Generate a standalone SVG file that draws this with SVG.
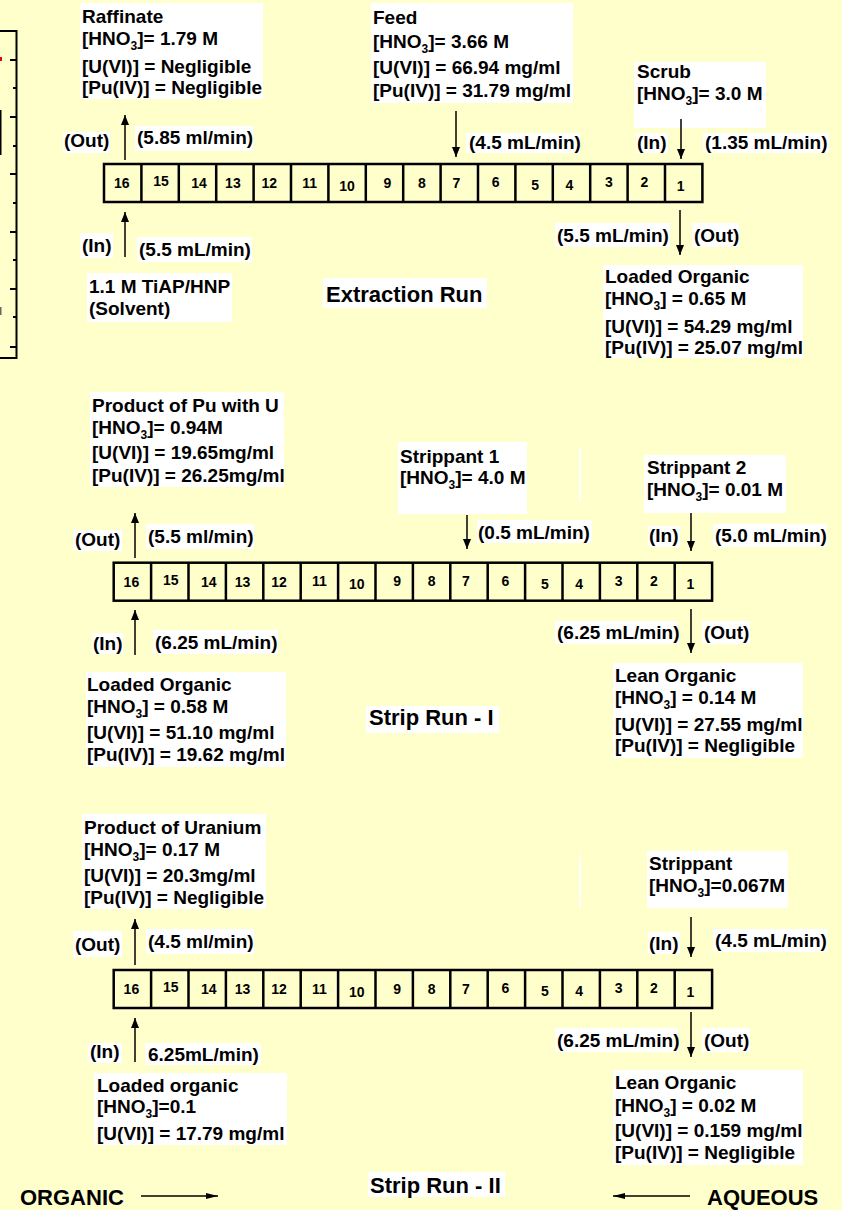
<svg xmlns="http://www.w3.org/2000/svg" width="842" height="1210" viewBox="0 0 842 1210">
<defs>
<style>
.t{font-family:"Liberation Sans",Arial,Helvetica,sans-serif;font-weight:bold;font-size:19px;fill:#000}
.ttl{font-size:22px}
.num{font-family:"Liberation Sans",Arial,Helvetica,sans-serif;font-weight:bold;font-size:14px;text-anchor:middle;fill:#000}
.sub{font-size:12px}
.bg{fill:#fff}
.cell{fill:none;stroke:#000;stroke-width:2.5}
.flow{stroke:#000;stroke-width:1.5;fill:none;marker-end:url(#ah)}
.dir{stroke:#000;stroke-width:1.3;fill:none;marker-end:url(#ah2)}
.axis{stroke:#000;stroke-width:2;fill:none}
</style>
<marker id="ah" markerUnits="userSpaceOnUse" viewBox="0 0 10 8" refX="10" refY="4" markerWidth="10" markerHeight="8" orient="auto"><path d="M0,0 L10,4 L0,8 z" fill="#000"/></marker>
<marker id="ah2" markerUnits="userSpaceOnUse" viewBox="0 0 12 6" refX="12" refY="3" markerWidth="12" markerHeight="6" orient="auto"><path d="M0,0 L12,3 L0,6 z" fill="#000"/></marker>
</defs>
<rect width="842" height="1210" fill="#FFFFCC"/>

<!-- partial chart fragment at left edge -->
<g id="chart-fragment">
<path class="axis" d="M0,31 H16.5 V358 H0"/>
<path class="axis" d="M10,60 H16.5 M10,117 H16.5 M10,174 H16.5 M10,232 H16.5 M10,289 H16.5 M10,347 H16.5 M13,88 H16.5 M13,146 H16.5 M13,203 H16.5 M13,260 H16.5 M13,317 H16.5"/>
<rect x="0" y="57" width="2" height="4" fill="#e00"/>
<rect x="0" y="110" width="1.5" height="45" fill="#000"/>
<rect x="0" y="307" width="1.5" height="8" fill="#666"/>
</g>

<!-- ===== Extraction Run ===== -->
<g id="strip-extraction" transform="translate(104,164)">
<rect class="cell" x="0" y="0" width="598.4" height="38"/>
<path class="cell" d="M37.4,0V38M74.8,0V38M112.2,0V38M149.6,0V38M187,0V38M224.4,0V38M261.8,0V38M299.2,0V38M336.6,0V38M374,0V38M411.4,0V38M448.8,0V38M486.2,0V38M523.6,0V38M561,0V38"/>
<text class="num" x="17.7" y="24">16</text><text class="num" x="57.1" y="22">15</text><text class="num" x="95" y="24">14</text><text class="num" x="128.9" y="24">13</text><text class="num" x="165.3" y="24">12</text><text class="num" x="205.7" y="23.5">11</text><text class="num" x="243.1" y="26.5">10</text><text class="num" x="283.5" y="23.5">9</text><text class="num" x="317.9" y="23.5">8</text><text class="num" x="352.3" y="23.5">7</text><text class="num" x="391.7" y="23">6</text><text class="num" x="431.1" y="26">5</text><text class="num" x="465.5" y="26">4</text><text class="num" x="504.9" y="23">3</text><text class="num" x="540.3" y="23">2</text><text class="num" x="576.7" y="26.5">1</text>
</g>

<g id="raffinate">
<rect class="bg" x="80" y="3" width="183" height="96"/>
<text class="t" x="82" y="23">Raffinate</text>
<text class="t" x="82" y="45">[HNO<tspan class="sub" dy="5">3</tspan><tspan dy="-5">]= 1.79 M</tspan></text>
<text class="t" x="82" y="73">[U(VI)] = Negligible</text>
<text class="t" x="82" y="94">[Pu(IV)] = Negligible</text>
</g>
<g id="feed">
<rect class="bg" x="371" y="3" width="202" height="100"/>
<text class="t" x="373" y="24">Feed</text>
<text class="t" x="373" y="48">[HNO<tspan class="sub" dy="5">3</tspan><tspan dy="-5">]= 3.66 M</tspan></text>
<text class="t" x="373" y="74">[U(VI)] = 66.94 mg/ml</text>
<text class="t" x="373" y="97">[Pu(IV)] = 31.79 mg/ml</text>
</g>
<g id="scrub">
<rect class="bg" x="634" y="62" width="132" height="66"/>
<text class="t" x="637" y="78">Scrub</text>
<text class="t" x="637" y="100">[HNO<tspan class="sub" dy="5">3</tspan><tspan dy="-5">]= 3.0 M</tspan></text>
</g>
<g id="solvent">
<rect class="bg" x="87" y="273" width="145" height="49"/>
<text class="t" x="89" y="293">1.1 M TiAP/HNP</text>
<text class="t" x="89" y="315">(Solvent)</text>
</g>
<g id="loaded-organic-1">
<rect class="bg" x="603" y="265" width="200" height="93"/>
<text class="t" x="605" y="283">Loaded Organic</text>
<text class="t" x="605" y="305">[HNO<tspan class="sub" dy="5">3</tspan><tspan dy="-5">] = 0.65 M</tspan></text>
<text class="t" x="605" y="333">[U(VI)] = 54.29 mg/ml</text>
<text class="t" x="605" y="354">[Pu(IV)] = 25.07 mg/ml</text>
</g>
<g id="title-extraction">
<rect class="bg" x="323" y="278" width="164" height="30"/>
<text class="t ttl" x="326" y="302">Extraction Run</text>
</g>
<g id="labels-extraction">
<rect class="bg" x="63" y="132" width="47" height="21"/><text class="t" x="64" y="147">(Out)</text>
<rect class="bg" x="135" y="126" width="118" height="25"/><text class="t" x="137" y="144">(5.85 ml/min)</text>
<rect class="bg" x="466" y="133" width="114" height="20"/><text class="t" x="469" y="149">(4.5 mL/min)</text>
<rect class="bg" x="636" y="133" width="32" height="20"/><text class="t" x="637" y="149">(In)</text>
<rect class="bg" x="703" y="133" width="126" height="20"/><text class="t" x="705" y="149">(1.35 mL/min)</text>
<rect class="bg" x="80" y="233" width="33" height="25"/><text class="t" x="82" y="252">(In)</text>
<rect class="bg" x="137" y="237" width="115" height="25"/><text class="t" x="139" y="256">(5.5 mL/min)</text>
<rect class="bg" x="555" y="223" width="115" height="24"/><text class="t" x="557" y="242">(5.5 mL/min)</text>
<rect class="bg" x="692" y="223" width="47" height="24"/><text class="t" x="694" y="242">(Out)</text>
</g>

<!-- ===== Strip Run - I ===== -->
<g id="strip-run-1" transform="translate(113.7,562.7)">
<rect class="cell" x="0" y="0" width="598.4" height="38"/>
<path class="cell" d="M37.4,0V38M74.8,0V38M112.2,0V38M149.6,0V38M187,0V38M224.4,0V38M261.8,0V38M299.2,0V38M336.6,0V38M374,0V38M411.4,0V38M448.8,0V38M486.2,0V38M523.6,0V38M561,0V38"/>
<text class="num" x="17.7" y="24">16</text><text class="num" x="57.1" y="22">15</text><text class="num" x="95" y="24">14</text><text class="num" x="128.9" y="24">13</text><text class="num" x="165.3" y="24">12</text><text class="num" x="205.7" y="23.5">11</text><text class="num" x="243.1" y="26.5">10</text><text class="num" x="283.5" y="23.5">9</text><text class="num" x="317.9" y="23.5">8</text><text class="num" x="352.3" y="23.5">7</text><text class="num" x="391.7" y="23">6</text><text class="num" x="431.1" y="26">5</text><text class="num" x="465.5" y="26">4</text><text class="num" x="504.9" y="23">3</text><text class="num" x="540.3" y="23">2</text><text class="num" x="576.7" y="26.5">1</text>
</g>
<g id="product-pu-u">
<rect class="bg" x="90" y="392" width="194" height="95"/>
<text class="t" x="92" y="412">Product of Pu with U</text>
<text class="t" x="92" y="434">[HNO<tspan class="sub" dy="5">3</tspan><tspan dy="-5">]= 0.94M</tspan></text>
<text class="t" x="92" y="459">[U(VI)] = 19.65mg/ml</text>
<text class="t" x="92" y="482">[Pu(IV)] = 26.25mg/ml</text>
</g>
<g id="strippant-1">
<rect class="bg" x="398" y="442" width="129" height="72"/>
<text class="t" x="400" y="463">Strippant 1</text>
<text class="t" x="400" y="484">[HNO<tspan class="sub" dy="5">3</tspan><tspan dy="-5">]= 4.0 M</tspan></text>
</g>
<g id="strippant-2">
<rect class="bg" x="644" y="455" width="142" height="58"/>
<text class="t" x="647" y="474">Strippant 2</text>
<text class="t" x="647" y="496">[HNO<tspan class="sub" dy="5">3</tspan><tspan dy="-5">]= 0.01 M</tspan></text>
</g>
<g id="loaded-organic-2">
<rect class="bg" x="86" y="672" width="200" height="95"/>
<text class="t" x="87" y="691">Loaded Organic</text>
<text class="t" x="87" y="713">[HNO<tspan class="sub" dy="5">3</tspan><tspan dy="-5">] = 0.58 M</tspan></text>
<text class="t" x="87" y="739">[U(VI)] = 51.10 mg/ml</text>
<text class="t" x="87" y="761">[Pu(IV)] = 19.62 mg/ml</text>
</g>
<g id="lean-organic-1">
<rect class="bg" x="613" y="663" width="190" height="95"/>
<text class="t" x="615" y="682">Lean Organic</text>
<text class="t" x="615" y="704">[HNO<tspan class="sub" dy="5">3</tspan><tspan dy="-5">] = 0.14 M</tspan></text>
<text class="t" x="615" y="731">[U(VI)] = 27.55 mg/ml</text>
<text class="t" x="615" y="752">[Pu(IV)] = Negligible</text>
</g>
<g id="title-strip-1">
<rect class="bg" x="366" y="706" width="133" height="27"/>
<text class="t ttl" x="369" y="725">Strip Run - I</text>
</g>
<g id="labels-strip-1">
<rect class="bg" x="73" y="530" width="49" height="21"/><text class="t" x="75" y="546">(Out)</text>
<rect class="bg" x="146" y="524" width="108" height="25"/><text class="t" x="148" y="543">(5.5 ml/min)</text>
<rect class="bg" x="477" y="520" width="115" height="23"/><text class="t" x="478" y="539">(0.5 mL/min)</text>
<rect class="bg" x="648" y="526" width="32" height="21"/><text class="t" x="649" y="542">(In)</text>
<rect class="bg" x="713" y="524" width="114" height="23"/><text class="t" x="715" y="542">(5.0 mL/min)</text>
<rect class="bg" x="92" y="633" width="31" height="21"/><text class="t" x="93" y="650">(In)</text>
<rect class="bg" x="153" y="630" width="125" height="24"/><text class="t" x="155" y="649">(6.25 mL/min)</text>
<rect class="bg" x="555" y="621" width="123" height="23"/><text class="t" x="557" y="639">(6.25 mL/min)</text>
<rect class="bg" x="702" y="621" width="48" height="23"/><text class="t" x="704" y="639">(Out)</text>
<rect class="bg" x="579" y="448" width="2" height="54"/>
</g>

<!-- ===== Strip Run - II ===== -->
<g id="strip-run-2" transform="translate(113.7,970)">
<rect class="cell" x="0" y="0" width="598.4" height="38"/>
<path class="cell" d="M37.4,0V38M74.8,0V38M112.2,0V38M149.6,0V38M187,0V38M224.4,0V38M261.8,0V38M299.2,0V38M336.6,0V38M374,0V38M411.4,0V38M448.8,0V38M486.2,0V38M523.6,0V38M561,0V38"/>
<text class="num" x="17.7" y="24">16</text><text class="num" x="57.1" y="22">15</text><text class="num" x="95" y="24">14</text><text class="num" x="128.9" y="24">13</text><text class="num" x="165.3" y="24">12</text><text class="num" x="205.7" y="23.5">11</text><text class="num" x="243.1" y="26.5">10</text><text class="num" x="283.5" y="23.5">9</text><text class="num" x="317.9" y="23.5">8</text><text class="num" x="352.3" y="23.5">7</text><text class="num" x="391.7" y="23">6</text><text class="num" x="431.1" y="26">5</text><text class="num" x="465.5" y="26">4</text><text class="num" x="504.9" y="23">3</text><text class="num" x="540.3" y="23">2</text><text class="num" x="576.7" y="26.5">1</text>
</g>
<g id="product-uranium">
<rect class="bg" x="82" y="814" width="184" height="95"/>
<text class="t" x="84" y="834">Product of Uranium</text>
<text class="t" x="84" y="856">[HNO<tspan class="sub" dy="5">3</tspan><tspan dy="-5">]= 0.17 M</tspan></text>
<text class="t" x="84" y="882">[U(VI)] = 20.3mg/ml</text>
<text class="t" x="84" y="904">[Pu(IV)] = Negligible</text>
</g>
<g id="strippant">
<rect class="bg" x="647" y="851" width="141" height="57"/>
<text class="t" x="649" y="870">Strippant</text>
<text class="t" x="649" y="892">[HNO<tspan class="sub" dy="5">3</tspan><tspan dy="-5">]=0.067M</tspan></text>
</g>
<g id="loaded-organic-3">
<rect class="bg" x="94" y="1073" width="193" height="72"/>
<text class="t" x="97" y="1092">Loaded organic</text>
<text class="t" x="97" y="1113">[HNO<tspan class="sub" dy="5">3</tspan><tspan dy="-5">]=0.1</tspan></text>
<text class="t" x="97" y="1140">[U(VI)] = 17.79 mg/ml</text>
</g>
<g id="lean-organic-2">
<rect class="bg" x="613" y="1070" width="190" height="95"/>
<text class="t" x="615" y="1089">Lean Organic</text>
<text class="t" x="615" y="1112">[HNO<tspan class="sub" dy="5">3</tspan><tspan dy="-5">] = 0.02 M</tspan></text>
<text class="t" x="615" y="1137">[U(VI)] = 0.159 mg/ml</text>
<text class="t" x="615" y="1159">[Pu(IV)] = Negligible</text>
</g>
<g id="title-strip-2">
<rect class="bg" x="368" y="1172" width="137" height="25"/>
<text class="t ttl" x="370" y="1193">Strip Run - II</text>
</g>
<g id="labels-strip-2">
<rect class="bg" x="73" y="931" width="49" height="26"/><text class="t" x="75" y="951">(Out)</text>
<rect class="bg" x="146" y="929" width="108" height="25"/><text class="t" x="148" y="948">(4.5 ml/min)</text>
<rect class="bg" x="648" y="932" width="32" height="22"/><text class="t" x="649" y="950">(In)</text>
<rect class="bg" x="713" y="929" width="114" height="23"/><text class="t" x="715" y="947">(4.5 mL/min)</text>
<rect class="bg" x="88" y="1043" width="34" height="20"/><text class="t" x="90" y="1058">(In)</text>
<rect class="bg" x="145" y="1043" width="116" height="22"/><text class="t" x="148" y="1061">6.25mL/min)</text>
<rect class="bg" x="555" y="1028" width="123" height="24"/><text class="t" x="557" y="1047">(6.25 mL/min)</text>
<rect class="bg" x="702" y="1028" width="48" height="24"/><text class="t" x="704" y="1047">(Out)</text>
<rect class="bg" x="579" y="855" width="2" height="53"/>
</g>
<g id="direction-legend">
<text class="t ttl" x="20" y="1205">ORGANIC</text>
<text class="t ttl" x="707" y="1205">AQUEOUS</text>
</g>

<!-- ===== Connectors ===== -->
<g id="connectors">
<line class="flow" x1="125" y1="160" x2="125" y2="115"/>
<line class="flow" x1="456" y1="111" x2="456" y2="157"/>
<line class="flow" x1="681" y1="119" x2="681" y2="159"/>
<line class="flow" x1="125" y1="257" x2="125" y2="212"/>
<line class="flow" x1="680" y1="210" x2="680" y2="255"/>

<line class="flow" x1="135" y1="558" x2="135" y2="513"/>
<line class="flow" x1="467" y1="515" x2="467" y2="549"/>
<line class="flow" x1="691" y1="513" x2="691" y2="551"/>
<line class="flow" x1="135" y1="655" x2="135" y2="610"/>
<line class="flow" x1="691" y1="609" x2="691" y2="653"/>

<line class="flow" x1="135" y1="965" x2="135" y2="919"/>
<line class="flow" x1="691" y1="917" x2="691" y2="957"/>
<line class="flow" x1="135" y1="1062" x2="135" y2="1018"/>
<line class="flow" x1="691" y1="1012" x2="691" y2="1057"/>

<line class="dir" x1="141" y1="1196" x2="218" y2="1196"/>
<line class="dir" x1="690" y1="1196" x2="613" y2="1196"/>
</g>
</svg>
